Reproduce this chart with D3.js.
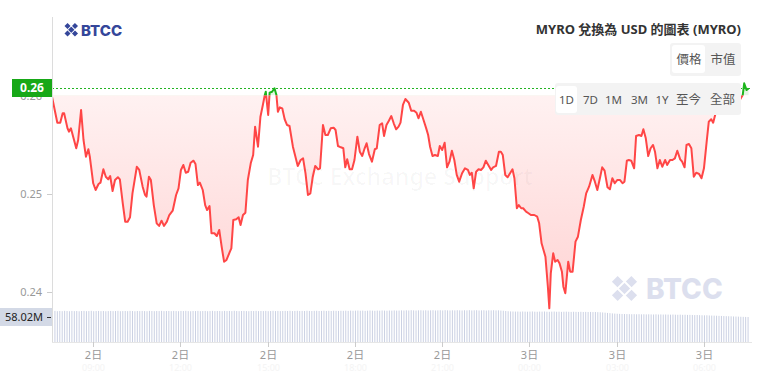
<!DOCTYPE html>
<meta charset="utf-8">
<style>
    body { margin: 0; background: #fff; }
    svg { display: block; font-family: "Noto Sans", "Noto Sans CJK TC", sans-serif; }
</style>
<body>
<script src="https://cdn.jsdelivr.net/npm/d3@7"></script>
<script>
    var width = 759
    var height = 373

    // minutes since the first point of the 1D window
    var mins = [0,11,17,22,25,32,35,39,50,54,60,65,70,75,78,85,90,96,100,106,111,116,120,125,130,136,140,146,151,156,161,166,175,180,187,192,195,200,204,210,216,221,226,231,237,242,249,256,261,266,271,276,281,286,292,296,301,305,311,316,320,325,329,335,340,345,350,355,360,367,
        370,374,380,385,389,394,399,404,410,415,419,425,430,435,439,441,446,449,454,459,463,466,470,475,480,485,490,497,503,507,513,518,523,528,533,538,543,549,553,559,564,569,575,581,585,590,596,601,605,609,614,619,624,630,635,640,645,649,654,660,666,670,676,681,685,690,695,700,705,710,715,719,724,729,736,
        741,747,752,756,761,766,772,776,780,785,790,796,800,805,810,815,820,825,830,835,840,846,852,858,862,866,870,875,880,885,890,895,900,906,910,916,922,926,930,935,940,945,950,954,959,963,968,972,978,983,988,995,1001,1005,1010,1014,1018,1023,1026,1029,1034,1038,1043,1047,1052,1055,1059,1065,1069,1074,1080,1085,1091,1097,1102,
        1108,1115,1120,1125,1131,1135,1140,1146,1151,1156,1161,1166,1172,1177,1181,1186,1190,1195,1201,1205,1211,1216,1220,1225,1230,1235,1240,1244,1249,1254,1259,1265,1269,1275,1280,1285,1290,1296,1300,1305,1309,1314,1319,1324,1329,1335,1340,1345,1351,1355,1360,1364,1369,1379,1389,1399,1409,1419,1425,1428,1433,1437]

    var prices = [0.25996,0.25730,0.25730,0.25826,0.25826,0.25672,0.25638,0.25672,0.25468,0.25553,
        0.25860,0.25553,0.25382,0.25458,0.25382,0.25110,0.25041,0.25102,0.25116,0.25253,
        0.25177,0.25150,0.25184,0.25031,0.25143,0.25171,0.25150,0.24905,0.24717,0.24717,
        0.24762,0.25007,0.25279,0.25246,0.25075,0.24990,0.24972,0.25177,0.25143,0.24887,
        0.24700,0.24673,0.24727,0.24673,0.24717,0.24785,0.24829,0.24990,0.25058,0.25246,
        0.25297,0.25218,0.25228,0.25320,0.25341,0.25307,0.25092,0.25116,0.25041,0.24887,
        0.24836,0.24877,0.24598,0.24598,0.24570,0.24632,0.24461,0.24307,0.24325,0.24410,
        0.24444,0.24734,0.24741,0.24762,0.24683,0.24785,0.24809,0.25143,0.25314,0.25399,
        0.25689,0.25484,0.25791,0.25911,0.26013,0.26047,0.25809,0.26037,0.26047,0.26082,
        0.26013,0.25842,0.25887,0.25877,0.25765,0.25706,0.25696,0.25484,0.25365,0.25287,
        0.25348,0.25365,0.25212,0.24990,0.25007,0.25177,0.25287,0.25253,0.25263,0.25706,
        0.25604,0.25604,0.25672,0.25679,0.25655,0.25491,0.25478,0.25468,0.25273,0.25355,
        0.25253,0.25253,0.25348,0.25587,0.25433,0.25389,0.25468,0.25519,0.25409,0.25331,
        0.25458,0.25468,0.25706,0.25724,0.25594,0.25706,0.25750,0.25798,0.25724,0.25662,
        0.25689,0.25730,0.25911,0.25972,0.25934,
        0.25853,0.25853,0.25832,0.25775,0.25842,0.25765,0.25672,0.25604,0.25484,0.25389,
        0.25399,0.25389,0.25491,0.25450,0.25525,0.25273,0.25331,0.25443,0.25348,0.25195,
        0.25126,0.25212,0.25263,0.25246,0.25195,0.25218,0.25058,0.25228,0.25253,0.25246,
        0.25273,0.25341,0.25297,0.25246,0.25273,0.25287,0.25433,0.25433,0.25399,0.25195,
        0.25171,0.25212,0.25253,0.25161,0.24854,0.24887,0.24854,0.24854,0.24819,0.24803,
        0.24785,0.24785,0.24768,0.24700,0.24495,0.24427,0.24358,0.24051,0.23830,0.24188,
        0.24393,0.24307,0.24325,0.24291,0.24205,0.24051,0.23984,0.24307,0.24205,0.24205,
        0.24512,0.24563,0.24734,0.24870,0.25007,
        0.25075,0.25195,0.25126,0.25041,0.25177,0.25273,0.25239,0.25069,0.25048,0.25161,
        0.25110,0.25143,0.25143,0.25110,0.25126,0.25341,0.25348,0.25341,0.25263,0.25594,
        0.25604,0.25594,0.25662,0.25570,0.25389,0.25468,0.25502,0.25433,0.25263,0.25348,
        0.25279,0.25348,0.25297,0.25348,0.25348,0.25365,0.25443,0.25355,0.25331,0.25273,
        0.25502,0.25512,0.25468,0.25177,0.25218,0.25205,0.25161,0.25263,0.25553,0.25740,
        0.25765,0.25730,0.25826,0.25880,0.25921,0.25860,0.25942,0.25962,0.26013,0.26133,
        0.26064,0.26080]

    // volume (millions), one bar per 5 minutes
    var volumes = [
        71.8,72.2,71.5,72.0,71.6,72.3,71.9,71.4,72.1,71.7,72.0,71.3,71.9,72.2,71.6,71.8,72.4,71.5,71.9,72.1,71.6,72.0,71.4,71.8,
        72.1,71.7,71.9,72.3,71.5,71.8,72.0,71.6,72.2,71.9,71.4,72.0,71.7,72.1,71.8,71.5,72.2,71.9,71.6,72.0,71.8,72.3,71.7,71.9,
        72.0,71.6,72.2,71.8,71.5,72.1,71.9,72.3,71.7,71.4,72.0,71.8,72.2,71.6,71.9,72.1,71.5,71.8,72.3,71.7,72.0,71.9,71.6,72.2,
        71.8,72.1,71.7,72.4,71.9,71.6,72.0,72.2,71.8,71.5,72.1,71.9,72.3,71.7,72.0,71.8,72.2,71.6,71.9,72.4,71.8,72.1,71.7,72.0,
        72.2,71.9,72.4,71.8,72.1,72.5,71.9,72.2,72.0,72.6,72.1,71.9,72.3,72.5,72.0,72.2,72.7,72.1,72.4,72.0,72.6,72.3,72.1,72.5,
        72.4,72.7,72.2,72.9,72.5,72.8,73.0,72.6,72.9,72.3,72.7,73.1,72.8,72.5,73.0,72.7,73.2,72.9,72.6,73.1,72.8,73.3,72.9,73.0,
        73.4,73.1,73.6,73.2,73.8,73.4,73.0,73.5,73.7,73.3,73.6,73.1,73.5,73.8,73.2,73.4,73.7,73.3,73.9,73.5,73.2,73.6,73.4,73.8,
        73.5,73.2,73.7,73.4,73.9,73.3,73.6,73.8,73.2,73.5,73.7,73.1,73.6,73.4,73.8,73.3,73.5,73.0,72.6,72.0,71.4,71.0,70.8,70.6,
        70.7,70.4,70.8,70.5,70.3,70.6,70.9,70.4,70.2,70.6,70.5,70.8,70.3,70.1,70.5,70.7,70.2,70.4,70.0,70.3,70.5,70.1,69.9,70.2,
        70.0,69.8,70.1,69.7,69.9,69.6,69.8,69.5,69.7,69.3,69.0,68.6,68.1,67.5,67.0,66.4,66.0,65.6,65.3,65.1,64.9,64.8,64.6,64.5,
        64.6,64.3,64.5,64.2,64.4,64.1,64.3,64.0,63.9,64.2,63.8,64.0,63.7,63.9,63.6,63.5,63.8,63.4,63.2,63.5,63.1,63.3,62.9,63.0,
        62.8,62.5,62.7,62.3,62.1,61.9,62.0,61.6,61.4,61.2,61.0,60.7,60.5,60.3,60.0,59.8,59.6,59.3,59.1,58.9,58.6,58.4,58.2,58.02]

    var yTicks = [0.24, 0.25, 0.26]
    var baseValue = 0.2601
    var priceLabel = '0.26'
    var volLabel = '58.02M'
    var title = 'MYRO 兌換為 USD 的圖表 (MYRO)'
    var modes = ['價格', '市值']
    var ranges = ['1D', '7D', '1M', '3M', '1Y', '至今', '全部']
    var watermark = 'BTCC Exchange Support'

    var start = new Date(2024, 0, 2, 7, 35)
    var data = mins.map(function (m, i) {
        return { t: d3.timeMinute.offset(start, m), p: prices[i] }
    })
    var last = data[data.length - 1]

    var x = d3.scaleTime().domain([start, d3.timeMinute.offset(start, 1440)]).range([52, 750])
    var y = d3.scaleLinear().domain([0.24, 0.26]).range([291.7, 96.3])
    var v = d3.scaleLinear().domain([0, 58.02]).range([342, 317])

    var svg = d3.select('body').append('svg')
        .attr('width', width)
        .attr('height', height)

    var defs = svg.append('defs')
    var yb = y(baseValue)

    defs.append('clipPath').attr('id', 'below')
        .append('rect').attr('x', 52).attr('y', yb).attr('width', 700).attr('height', 342 - yb)
    defs.append('clipPath').attr('id', 'above')
        .append('rect').attr('x', 52).attr('y', 0).attr('width', 700).attr('height', yb)

    var grad = defs.append('linearGradient').attr('id', 'redFill')
        .attr('gradientUnits', 'userSpaceOnUse')
        .attr('x1', 0).attr('x2', 0).attr('y1', yb).attr('y2', 330)
    grad.append('stop').attr('offset', 0).attr('stop-color', 'rgb(255,60,60)').attr('stop-opacity', 0.07)
    grad.append('stop').attr('offset', 1).attr('stop-color', 'rgb(255,60,60)').attr('stop-opacity', 0.24)

    // watermark text
    svg.append('text')
        .attr('x', 400).attr('y', 185)
        .attr('text-anchor', 'middle')
        .style('font-size', '23px').style('font-weight', 600)
        .style('fill', '#000').style('fill-opacity', 0.03)
        .text(watermark)

    // big BTCC watermark
    function drawLogo(g, s, color) {
        g.append('path')
            .attr('d', 'M' + s * 0.14 + ',' + s * 0.14 + 'L' + s * 0.86 + ',' + s * 0.86 +
                'M' + s * 0.86 + ',' + s * 0.14 + 'L' + s * 0.14 + ',' + s * 0.86)
            .attr('stroke', color).attr('stroke-width', s * 0.3).attr('fill', 'none')
        g.append('path')
            .attr('d', 'M' + s / 2 + ',' + s * 0.24 + 'L' + s * 0.76 + ',' + s / 2 +
                'L' + s / 2 + ',' + s * 0.76 + 'L' + s * 0.24 + ',' + s / 2 + 'Z')
            .attr('fill', 'none').attr('stroke', '#fff').attr('stroke-width', s * 0.07)
    }

    var wm = svg.append('g').attr('transform', 'translate(611,275)')
    drawLogo(wm, 27, '#dcdfee')
    svg.append('text').attr('x', 646).attr('y', 299)
        .style('font-family', 'Inter, sans-serif')
        .style('font-size', '28px').style('font-weight', 800)
        .style('fill', '#dcdfee')
        .text('BTCC')

    // volume histogram
    svg.append('g').selectAll('rect')
        .data(volumes)
        .enter().append('rect')
        .attr('x', function (d, i) { return x(d3.timeMinute.offset(start, i * 5)) })
        .attr('y', function (d) { return v(d) })
        .attr('width', 1)
        .attr('height', function (d) { return 342 - v(d) })
        .style('fill', '#cbd1e3')

    var area = d3.area()
        .x(function (d) { return x(d.t) })
        .y0(yb)
        .y1(function (d) { return y(d.p) })

    var line = d3.line()
        .x(function (d) { return x(d.t) })
        .y(function (d) { return y(d.p) })

    svg.append('path').datum(data)
        .attr('clip-path', 'url(#below)')
        .attr('d', area)
        .style('fill', 'url(#redFill)')

    svg.append('path').datum(data)
        .attr('clip-path', 'url(#above)')
        .attr('d', area)
        .style('fill', 'rgba(30,180,30,0.12)')

    svg.append('path').datum(data)
        .attr('clip-path', 'url(#below)')
        .attr('d', line)
        .style('fill', 'none').style('stroke', '#ff4646').style('stroke-width', 2)
        .style('stroke-linejoin', 'round')

    svg.append('path').datum(data)
        .attr('clip-path', 'url(#above)')
        .attr('d', line)
        .style('fill', 'none').style('stroke', '#1db51d').style('stroke-width', 2)
        .style('stroke-linejoin', 'round')

    // last price line
    svg.append('line')
        .attr('x1', 52).attr('x2', 752)
        .attr('y1', Math.round(y(last.p)) + 0.5).attr('y2', Math.round(y(last.p)) + 0.5)
        .style('stroke', '#22b422').style('stroke-dasharray', '2,2')

    // axes
    svg.append('line').attr('x1', 52.5).attr('x2', 52.5).attr('y1', 17).attr('y2', 342)
        .style('stroke', '#dcdcdc')
    svg.append('line').attr('x1', 52).attr('x2', 752).attr('y1', 342.5).attr('y2', 342.5)
        .style('stroke', '#e6e6e6')

    var yAxis = svg.append('g')
    yTicks.forEach(function (t) {
        var yy = Math.round(y(t)) + 0.5
        yAxis.append('line').attr('x1', 47).attr('x2', 52).attr('y1', yy).attr('y2', yy).style('stroke', '#ccc')
        yAxis.append('text').attr('x', 42).attr('y', yy).attr('dy', '0.35em')
            .attr('text-anchor', 'end')
            .style('font-size', '11px').style('fill', '#999')
            .text(d3.format('.2f')(t))
    })

    var xTicks = x.ticks(d3.timeHour.every(3))
    var xAxis = svg.append('g')
    xTicks.forEach(function (t) {
        var xx = Math.round(x(t)) + 0.5
        xAxis.append('line').attr('x1', xx).attr('x2', xx).attr('y1', 342).attr('y2', 347).style('stroke', '#ccc')
        xAxis.append('text').attr('x', xx).attr('y', 359)
            .attr('text-anchor', 'middle')
            .style('font-size', '11px').style('fill', '#999')
            .text(d3.timeFormat('%-d日')(t))
        xAxis.append('text').attr('x', xx).attr('y', 371)
            .attr('text-anchor', 'middle')
            .style('font-size', '9px').style('fill', '#f4f4f4')
            .text(d3.timeFormat('%H:%M')(t))
    })

    // price label
    var py = Math.round(y(last.p))
    svg.append('rect').attr('x', 12).attr('y', py - 9).attr('width', 40).attr('height', 18)
        .style('fill', '#17a817')
    svg.append('text').attr('x', 32).attr('y', py).attr('dy', '0.35em')
        .attr('text-anchor', 'middle')
        .style('font-size', '12px').style('font-weight', 700).style('fill', '#fff')
        .text(priceLabel)

    // volume label
    var vy = Math.round(v(volumes[volumes.length - 1]))
    svg.append('rect').attr('x', 0).attr('y', vy - 9).attr('width', 52).attr('height', 18)
        .style('fill', '#d3d9e6')
    svg.append('line').attr('x1', 47).attr('x2', 51).attr('y1', vy + 0.5).attr('y2', vy + 0.5).style('stroke', '#333')
    svg.append('text').attr('x', 43).attr('y', vy).attr('dy', '0.35em')
        .attr('text-anchor', 'end')
        .style('font-size', '11px').style('fill', '#222')
        .text(volLabel)

    // top-left logo
    var logo = svg.append('g').attr('transform', 'translate(64,22.5)')
    drawLogo(logo, 14.5, '#34469a')
    svg.append('text').attr('x', 81).attr('y', 35.5)
        .style('font-family', 'Inter, sans-serif')
        .style('font-size', '15px').style('font-weight', 800)
        .style('fill', '#34469a')
        .text('BTCC')

    // title
    svg.append('text').attr('x', 741).attr('y', 33.5)
        .attr('text-anchor', 'end')
        .style('font-size', '13px').style('font-weight', 700).style('fill', '#333')
        .text(title)

    // mode toggle
    svg.append('rect').attr('x', 670).attr('y', 43).attr('width', 71).attr('height', 33).attr('rx', 3)
        .style('fill', '#f3f3f3')
    svg.append('rect').attr('x', 672).attr('y', 45).attr('width', 33).attr('height', 28).attr('rx', 3)
        .style('fill', '#fff')
    var modeX = [689, 723]
    modes.forEach(function (m, i) {
        svg.append('text').attr('x', modeX[i]).attr('y', 60).attr('dy', '0.35em')
            .attr('text-anchor', 'middle')
            .style('font-size', '12.5px').style('fill', '#555')
            .text(m)
    })

    // range buttons
    svg.append('rect').attr('x', 555).attr('y', 83).attr('width', 186).attr('height', 32).attr('rx', 3)
        .style('fill', '#f3f3f3')
    svg.append('rect').attr('x', 556).attr('y', 86).attr('width', 21).attr('height', 27).attr('rx', 3)
        .style('fill', '#fff')
    var rangeX = [566.5, 590.5, 613.5, 639.5, 662, 688.5, 722.5]
    ranges.forEach(function (r, i) {
        svg.append('text').attr('x', rangeX[i]).attr('y', 100).attr('dy', '0.35em')
            .attr('text-anchor', 'middle')
            .style('font-size', i < 5 ? '11.5px' : '12.5px').style('fill', '#555')
            .text(r)
    })
</script>
</body>
